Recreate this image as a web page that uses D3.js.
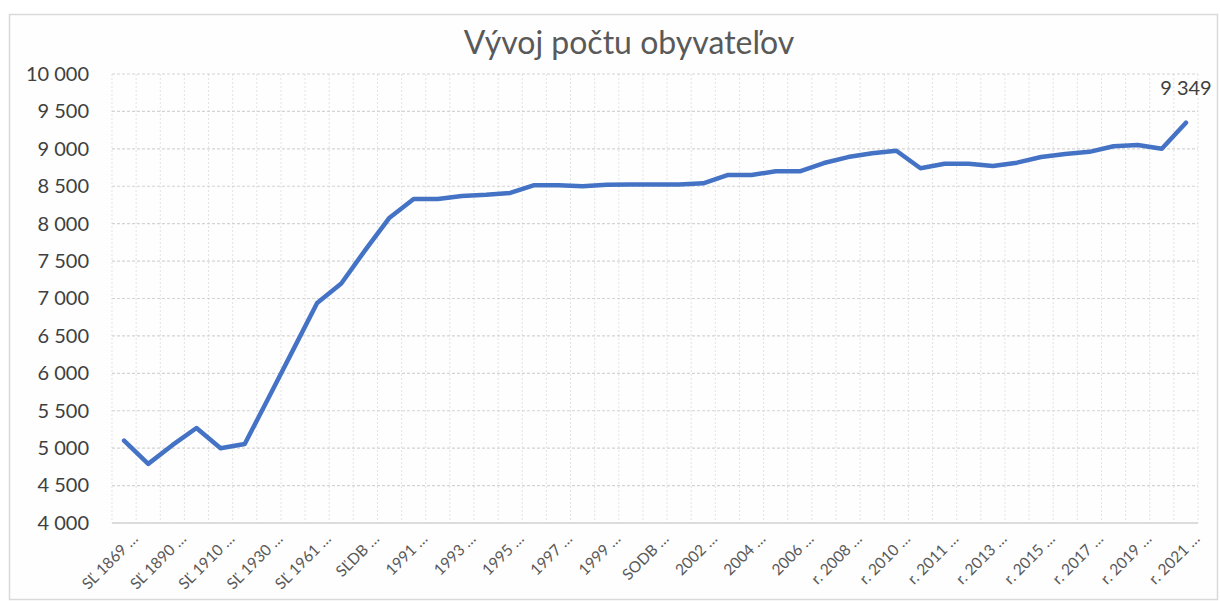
<!DOCTYPE html>
<html>
<head>
<meta charset="utf-8">
<script src="https://cdn.jsdelivr.net/npm/d3@7"></script>
<style>
  body { margin: 0; background: #fff; }
  #chart { font-family: Lato, "Open Sans", sans-serif; }
</style>
</head>
<body>
<svg id="chart"></svg>
<script>

// categories (every second one is shown on the axis, like in the source)
const categories = [
  "SĽ 1869 …", "SĽ 1880 …", "SĽ 1890 …", "SĽ 1900 …", "SĽ 1910 …", "SĽ 1921 …",
  "SĽ 1930 …", "SĽ 1950 …", "SĽ 1961 …", "SĽ 1970 …", "SĽDB …", "1990 …",
  "1991 …", "1992 …", "1993 …", "1994 …", "1995 …", "1996 …", "1997 …", "1998 …",
  "1999 …", "2000 …", "SODB …", "2001 …", "2002 …", "2003 …", "2004 …", "2005 …",
  "2006 …", "2007 …", "r. 2008 …", "r. 2009 …", "r. 2010 …", "SODB 2011 …",
  "r. 2011 …", "r. 2012 …", "r. 2013 …", "r. 2014 …", "r. 2015 …", "r. 2016 …",
  "r. 2017 …", "r. 2018 …", "r. 2019 …", "r. 2020 …", "r. 2021 …"
];

const population = [
  5100, 4790, 5040, 5270, 5000, 5055,
  5680, 6310, 6940, 7200, 7650, 8080,
  8330, 8330, 8370, 8385, 8410, 8515, 8515, 8500,
  8520, 8525, 8525, 8525, 8540, 8650, 8650, 8700,
  8700, 8810, 8890, 8940, 8975, 8740,
  8800, 8800, 8770, 8815, 8890, 8930,
  8960, 9035, 9050, 9000, 9349
];

const yTicks = [4000, 4500, 5000, 5500, 6000, 6500, 7000, 7500, 8000, 8500, 9000, 9500, 10000];

const title = "Vývoj počtu obyvateľov";

var width = 1220, height = 601;
var margin = { top: 74, right: 22, bottom: 78, left: 112 };

var locale = d3.formatLocale({ decimal: ",", thousands: "\u00a0", grouping: [3], currency: ["", ""] });
var fmt = locale.format(",");

var svg = d3.select("#chart")
  .attr("width", width)
  .attr("height", height);

// chart frame
svg.append("rect")
  .attr("x", 9.5)
  .attr("y", 14.5)
  .attr("width", 1208)
  .attr("height", 585)
  .attr("fill", "#fefefe")
  .attr("stroke", "#d9d9d9")
  .attr("stroke-width", 1.5);

var xScale = d3.scaleBand()
  .domain(categories)
  .range([margin.left, width - margin.right])
  .padding(0);

var yScale = d3.scaleLinear()
  .domain([4000, 10000])
  .range([height - margin.bottom, margin.top]);

// vertical gridlines at category borders
var borders = categories.map(c => xScale(c)).concat([xScale.range()[1]]);
svg.append("g")
  .selectAll("line")
  .data(borders)
  .join("line")
  .attr("x1", d => d)
  .attr("x2", d => d)
  .attr("y1", yScale(10000))
  .attr("y2", yScale(4000))
  .attr("stroke", "#e3e3e3")
  .attr("stroke-width", 1)
  .attr("stroke-dasharray", "2,2");

// horizontal gridlines
svg.append("g")
  .selectAll("line")
  .data(yTicks.filter(d => d > 4000))
  .join("line")
  .attr("x1", margin.left)
  .attr("x2", width - margin.right)
  .attr("y1", d => yScale(d))
  .attr("y2", d => yScale(d))
  .attr("stroke", "#d4d4d4")
  .attr("stroke-width", 1.2)
  .attr("stroke-dasharray", "3,2");

// axis line
svg.append("line")
  .attr("x1", margin.left)
  .attr("x2", width - margin.right)
  .attr("y1", yScale(4000))
  .attr("y2", yScale(4000))
  .attr("stroke", "#d0d0d0")
  .attr("stroke-width", 1.5);

// y axis labels
var yAxis = svg.append("g")
  .attr("transform", `translate(${margin.left},0)`)
  .call(d3.axisLeft(yScale).tickValues(yTicks).tickFormat(fmt).tickSize(0).tickPadding(23));
yAxis.select(".domain").remove();
yAxis.selectAll("text")
  .style("font-family", "Lato, 'Open Sans', sans-serif")
  .style("font-size", "20px")
  .attr("fill", "#404040");

// x axis labels, rotated
svg.append("g")
  .selectAll("text")
  .data(categories.filter((c, i) => i % 2 === 0))
  .join("text")
  .attr("transform", d => `translate(${xScale(d) + xScale.bandwidth() / 2 + 11},${yScale(4000) + 13}) rotate(-45)`)
  .attr("text-anchor", "end")
  .attr("dy", "0.35em")
  .attr("fill", "#595959")
  .style("font-size", "15.5px")
  .text(d => d);

// the line
var line = d3.line()
  .x((d, i) => xScale(categories[i]) + xScale.bandwidth() / 2)
  .y(d => yScale(d));

svg.append("path")
  .datum(population)
  .attr("d", line)
  .attr("fill", "none")
  .attr("stroke", "#4472c4")
  .attr("stroke-width", 4.5)
  .attr("stroke-linejoin", "round")
  .attr("stroke-linecap", "round");

// label on the last point
var last = population.length - 1;
svg.append("text")
  .attr("x", xScale(categories[last]) + xScale.bandwidth() / 2)
  .attr("y", yScale(population[last]) - 28)
  .attr("text-anchor", "middle")
  .attr("fill", "#404040")
  .style("font-size", "20px")
  .text(fmt(population[last]));

// title
svg.append("text")
  .attr("x", 629)
  .attr("y", 54)
  .attr("text-anchor", "middle")
  .attr("fill", "#595959")
  .style("font-size", "32px")
  .text(title);

</script>
</body>
</html>
